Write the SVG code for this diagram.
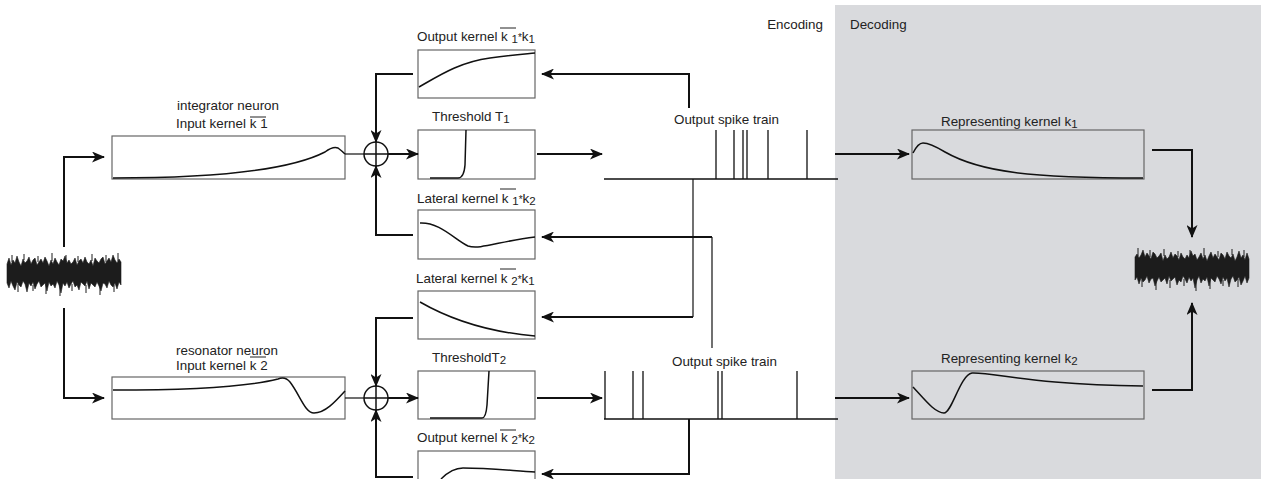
<svg xmlns="http://www.w3.org/2000/svg" width="1261" height="479" viewBox="0 0 1261 479">
<style>
text{font-family:"Liberation Sans",Arial,sans-serif;font-size:13.4px;fill:#222}
.sub{font-size:11.5px}
.ast{font-size:10px}
.box{fill:none;stroke:#666;stroke-width:1.2}
.crv{fill:none;stroke:#111;stroke-width:1.5}
.con{fill:none;stroke:#111;stroke-width:2}
.thin{fill:none;stroke:#111;stroke-width:1.2}
.bar{stroke:#222;stroke-width:1}
.spk{stroke:#111;stroke-width:1.3;fill:none}
</style>
<defs>
<marker id="ah" markerWidth="13" markerHeight="11" refX="12" refY="5.5" orient="auto" markerUnits="userSpaceOnUse"><path d="M0,0 L13,5.5 L0,11 L3.5,5.5 z" fill="#111"/></marker>
<g id="noise">
<polygon fill="#1c1c1c" stroke="#1c1c1c" stroke-width="0.6" stroke-linejoin="bevel" points="7,264 9,258 11,265 13,260 15,263 17,256 19,262 21,266 23,259 25,263 27,261 29,257 31,264 33,260 35,258 37,265 39,262 41,259 43,263 45,257 47,261 49,266 51,260 53,264 55,258 57,262 59,265 61,259 63,261 65,256 67,263 69,260 71,264 73,262 75,258 77,265 79,261 81,259 83,263 85,257 87,262 89,264 91,260 93,266 95,258 97,261 99,263 101,259 103,257 105,264 107,261 109,258 111,262 113,255 115,260 117,263 119,259 121,262 121,285 119,282 117,289 115,283 113,287 111,285 109,281 107,288 105,284 103,283 101,291 99,286 97,282 95,287 93,285 91,283 89,289 87,281 85,286 83,284 81,282 79,290 77,285 75,287 73,281 71,284 69,288 67,282 65,286 63,283 61,293 59,285 57,281 55,288 53,284 51,286 49,282 47,291 45,283 43,285 41,287 39,281 37,284 35,289 33,282 31,286 29,283 27,292 25,284 23,281 21,287 19,285 17,282 15,290 13,286 11,281 9,288 7,283"/>
<path stroke="#1c1c1c" stroke-width="1" d="M12,262 V255 M24,260 V254 M38,262 V256 M52,261 V253 M66,262 V255 M78,262 V256 M92,261 V254 M106,262 V255 M118,261 V253 M18,284 V292 M33,285 V291 M46,284 V294 M60,285 V296 M72,284 V291 M86,285 V293 M100,284 V295 M114,285 V292"/>
</g>
</defs>

<rect id="decoding-panel" x="835" y="5" width="426" height="474" fill="#d9dadd"/>
<text x="823" y="29" text-anchor="end">Encoding</text>
<text x="850" y="29">Decoding</text>

<g id="input-signal"><use href="#noise"/></g>
<g id="output-signal"><use href="#noise" transform="translate(1256,-5) scale(-1,1)"/></g>

<g id="integrator">
<text x="177" y="110">integrator neuron</text>
<text x="176" y="128">Input kernel k <tspan>1</tspan></text>
<line class="bar" x1="250" y1="117" x2="266" y2="117"/>
<rect class="box" x="112" y="136" width="233" height="43"/>
<path class="crv" d="M113,178 C220,178 290,170 325,152 Q333,146 338,148 Q342,151 345,154"/>
</g>

<g id="resonator">
<text x="176" y="355">resonator neuron</text>
<text x="176" y="370">Input kernel k <tspan>2</tspan></text>
<line class="bar" x1="250" y1="357" x2="266" y2="357"/>
<rect class="box" x="112" y="377" width="233" height="42"/>
<path class="crv" d="M113,390 C200,390 250,386 278,379 Q285,376 290,382 C300,395 305,413 314,413 C325,413 335,402 345,391"/>
</g>

<g id="sum1">
<circle cx="376" cy="154" r="12" fill="none" stroke="#111" stroke-width="1.5"/>
<path d="M364,154 H388 M376,142 V166" stroke="#111" stroke-width="1.5"/>
</g>
<g id="sum2">
<circle cx="376" cy="398" r="12" fill="none" stroke="#111" stroke-width="1.5"/>
<path d="M364,398 H388 M376,386 V410" stroke="#111" stroke-width="1.5"/>
</g>

<g id="output-kernel-1">
<text x="417" y="41">Output kernel k <tspan class="sub" dy="2">1</tspan><tspan class="ast" dy="-2">*</tspan><tspan>k</tspan><tspan class="sub" dy="2">1</tspan></text>
<line class="bar" x1="500" y1="28" x2="516" y2="28"/>
<rect class="box" x="418" y="50" width="117" height="48"/>
<path class="crv" d="M419,87 C440,75 460,62 490,58 C510,55 525,54 535,53"/>
</g>

<g id="threshold-1">
<text x="432" y="121">Threshold T<tspan class="sub" dy="2">1</tspan></text>
<rect class="box" x="418" y="130" width="117" height="49"/>
<path class="crv" d="M430,178 L458,178 Q464,178 465,165 L466,130"/>
</g>

<g id="lateral-kernel-12">
<text x="417" y="203">Lateral kernel k <tspan class="sub" dy="2">1</tspan><tspan class="ast" dy="-2">*</tspan><tspan>k</tspan><tspan class="sub" dy="2">2</tspan></text>
<line class="bar" x1="500" y1="189" x2="516" y2="189"/>
<rect class="box" x="418" y="210" width="117" height="49"/>
<path class="crv" d="M420,223 C440,222 455,240 468,246 C480,250 500,241 535,237"/>
</g>

<g id="lateral-kernel-21">
<text x="416" y="283">Lateral kernel k <tspan class="sub" dy="2">2</tspan><tspan class="ast" dy="-2">*</tspan><tspan>k</tspan><tspan class="sub" dy="2">1</tspan></text>
<line class="bar" x1="500" y1="269" x2="516" y2="269"/>
<rect class="box" x="418" y="291" width="117" height="48"/>
<path class="crv" d="M420,302 C460,325 500,333 535,336"/>
</g>

<g id="threshold-2">
<text x="432" y="362">ThresholdT<tspan class="sub" dy="2">2</tspan></text>
<rect class="box" x="418" y="371" width="117" height="48"/>
<path class="crv" d="M430,418 L482,418 Q486,418 487,405 L489,371"/>
</g>

<g id="output-kernel-2">
<text x="417" y="442">Output kernel k <tspan class="sub" dy="2">2</tspan><tspan class="ast" dy="-2">*</tspan><tspan>k</tspan><tspan class="sub" dy="2">2</tspan></text>
<line class="bar" x1="500" y1="430" x2="516" y2="430"/>
<rect class="box" x="418" y="451" width="117" height="40"/>
<path class="crv" d="M441,479 C448,472 455,468 463,468 C490,468 515,471 535,472"/>
</g>

<g id="spike-train-1">
<text x="674" y="124">Output spike train</text>
<path class="spk" d="M604,179 H838 M716,130 V179 M734,130 V179 M743,130 V179 M747,130 V179 M768,130 V179 M807,130 V179"/>
</g>

<g id="spike-train-2">
<text x="672" y="366">Output spike train</text>
<path class="spk" d="M604,419 H838 M605,371 V419 M633,371 V419 M643,371 V419 M718,371 V419 M722,371 V419 M797,371 V419"/>
</g>

<g id="representing-kernel-1">
<text x="941" y="126">Representing kernel k<tspan class="sub" dy="2">1</tspan></text>
<rect class="box" x="912" y="130" width="232" height="49"/>
<path class="crv" d="M913,153 Q918,143 923,143 Q930,143 945,152 C980,172 1030,178 1143,178"/>
</g>

<g id="representing-kernel-2">
<text x="941" y="363">Representing kernel k<tspan class="sub" dy="2">2</tspan></text>
<rect class="box" x="912" y="371" width="232" height="48"/>
<path class="crv" d="M913,387 C925,400 935,413 944,413 C952,413 960,375 972,373 C995,372 1030,385 1143,386"/>
</g>

<g id="connectors">
<path class="con" d="M64,247 V157 H104" marker-end="url(#ah)"/>
<path class="con" d="M64,308 V398 H104" marker-end="url(#ah)"/>
<path class="thin" d="M345,154 H364"/>
<path class="thin" d="M345,398 H364"/>
<path class="con" d="M388,154 H418" marker-end="url(#ah)"/>
<path class="con" d="M388,398 H418" marker-end="url(#ah)"/>
<path class="con" d="M413,74 H376 V142" marker-end="url(#ah)"/>
<path class="con" d="M413,235 H376 V166" marker-end="url(#ah)"/>
<path class="con" d="M413,318 H376 V386" marker-end="url(#ah)"/>
<path class="con" d="M413,477 H376 V410" marker-end="url(#ah)"/>
<path class="con" d="M537,154 H602" marker-end="url(#ah)"/>
<path class="con" d="M537,398 H602" marker-end="url(#ah)"/>
<path class="con" d="M689,108 V74 H542" marker-end="url(#ah)"/>
<path class="thin" d="M693,179 V317"/>
<path class="con" d="M693,317 H542" marker-end="url(#ah)"/>
<path class="thin" d="M712,348 V237"/>
<path class="con" d="M712,237 H542" marker-end="url(#ah)"/>
<path class="con" d="M689,419 V474 H542" marker-end="url(#ah)"/>
<path class="con" d="M835,154 H909" marker-end="url(#ah)"/>
<path class="con" d="M835,398 H909" marker-end="url(#ah)"/>
<path class="con" d="M1152,150 H1192 V237" marker-end="url(#ah)"/>
<path class="con" d="M1152,390 H1192 V303" marker-end="url(#ah)"/>
</g>
</svg>
